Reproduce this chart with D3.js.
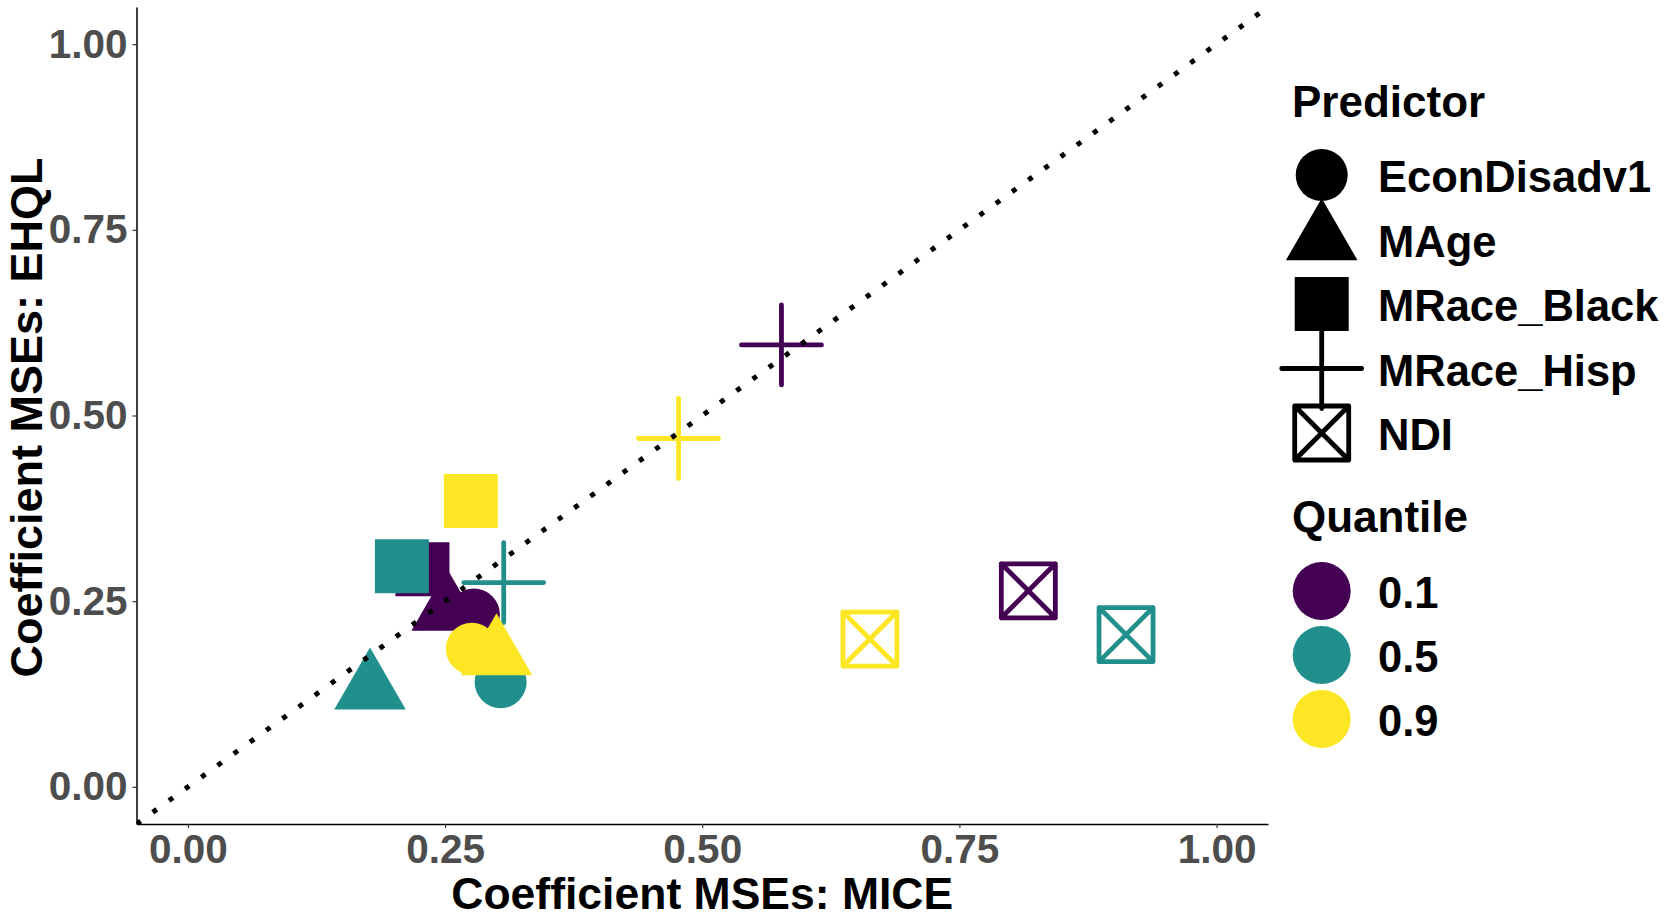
<!DOCTYPE html>
<html>
<head>
<meta charset="utf-8">
<script src="https://cdn.jsdelivr.net/npm/d3@7"></script>
<style>
  body { margin: 0; background: #fff; }
  text { font-family: "Liberation Sans", Arial, sans-serif; font-weight: bold; }
</style>
</head>
<body>
<div id="chart"></div>
<script>
// values
const predictors = ["EconDisadv1", "MAge", "MRace_Black", "MRace_Hisp", "NDI"];
const quantiles = ["0.1", "0.5", "0.9"];

// MSE per predictor (same order as predictors), one pair of arrays per quantile
const miceQ10 = [0.278, 0.252, 0.228, 0.577, 0.817];
const ehqlQ10 = [0.232, 0.238, 0.293, 0.595, 0.264];
const miceQ50 = [0.304, 0.177, 0.208, 0.307, 0.912];
const ehqlQ50 = [0.141, 0.132, 0.297, 0.275, 0.205];
const miceQ90 = [0.276, 0.300, 0.275, 0.477, 0.663];
const ehqlQ90 = [0.186, 0.178, 0.385, 0.469, 0.199];

const tickValues = [0, 0.25, 0.5, 0.75, 1];

const width = 1680,
    height = 922,
    panel = ({ left: 136.5, right: 1268, top: 7, bottom: 824 });

const mice = [miceQ10, miceQ50, miceQ90];
const ehql = [ehqlQ10, ehqlQ50, ehqlQ90];

let data = [];
quantiles.forEach((q, qi) => {
  predictors.forEach((p, pi) => {
    data.push({ quantile: q, predictor: p, mice: mice[qi][pi], ehql: ehql[qi][pi] });
  });
});

const svg = d3.select("#chart")
    .append("svg")
    .attr("width", width)
    .attr("height", height)
    .attr("viewBox", [0, 0, width, height]);

let x = d3.scaleLinear()
    .domain([-0.05, 1.05])
    .range([panel.left, panel.right]);

let y = d3.scaleLinear()
    .domain([-0.05, 1.05])
    .range([panel.bottom, panel.top]);

const color = d3.scaleOrdinal()
    .domain(quantiles)
    .range(["#440154", "#21908C", "#FDE725"]);

// shape paths centred on 0,0 (mimic R pch 16, 17, 15, 3, 7)
const triR = 41.3;
const triX = triR * Math.sqrt(3) / 2;
const shapes = {
  "EconDisadv1": { d: "M-26,0A26,26 0 1,0 26,0A26,26 0 1,0 -26,0Z", filled: true },
  "MAge": { d: `M0,${-triR}L${triX},${triR / 2}L${-triX},${triR / 2}Z`, filled: true },
  "MRace_Black": { d: "M-27,-27H27V27H-27Z", filled: true },
  "MRace_Hisp": { d: "M-40,0H40M0,-40V40", filled: false },
  "NDI": { d: "M-27,-27H27V27H-27ZM-27,-27L27,27M27,-27L-27,27", filled: false }
};

function drawShape(sel, pred, col) {
  const s = shapes[pred];
  sel.attr("d", s.d)
    .attr("fill", s.filled ? col : "none")
    .attr("stroke", s.filled ? "none" : col)
    .attr("stroke-width", 4.8)
    .attr("stroke-linecap", "round")
    .attr("stroke-linejoin", "round");
}

// axes
const xAxis = svg.append("g")
    .attr("transform", `translate(0,${panel.bottom})`)
    .call(d3.axisBottom(x).tickValues(tickValues).tickFormat(d3.format(".2f"))
      .tickSize(4).tickSizeOuter(0).tickPadding(6));

const yAxis = svg.append("g")
    .attr("transform", `translate(${panel.left},0)`)
    .call(d3.axisLeft(y).tickValues(tickValues).tickFormat(d3.format(".2f"))
      .tickSize(4).tickSizeOuter(0).tickPadding(5));

for (let g of [xAxis, yAxis]) {
  g.select(".domain").attr("stroke", "#000").attr("stroke-width", 1.5);
  g.selectAll(".tick line").attr("stroke", "#333333").attr("stroke-width", 1.2);
  g.selectAll(".tick text")
    .attr("fill", "#4D4D4D")
    .style("font-size", "40.5px")
    .style("font-family", "'Liberation Sans', Arial, sans-serif")
    .style("font-weight", "bold");
}

// points
svg.append("g")
  .selectAll("path")
  .data(data)
  .join("path")
  .attr("transform", d => `translate(${x(d.mice)},${y(d.ehql)})`)
  .each(function(d) { drawShape(d3.select(this), d.predictor, color(d.quantile)); });

// y = x reference line, clipped to the panel
svg.append("clipPath")
    .attr("id", "panel-clip")
  .append("rect")
    .attr("x", panel.left)
    .attr("y", panel.top)
    .attr("width", panel.right - panel.left)
    .attr("height", panel.bottom - panel.top);

svg.append("line")
    .attr("clip-path", "url(#panel-clip)")
    .attr("x1", x(-0.05))
    .attr("y1", y(-0.05))
    .attr("x2", x(1.05))
    .attr("y2", y(1.05))
    .attr("stroke", "#000")
    .attr("stroke-width", 5)
    .attr("stroke-dasharray", "5 15");

// axis titles
svg.append("text")
    .attr("x", (panel.left + panel.right) / 2)
    .attr("y", 909)
    .attr("text-anchor", "middle")
    .style("font-size", "44.5px")
    .text("Coefficient MSEs: MICE");

svg.append("text")
    .attr("transform", `translate(42,${(panel.top + panel.bottom) / 2 + 2}) rotate(-90)`)
    .attr("text-anchor", "middle")
    .style("font-size", "45px")
    .text("Coefficient MSEs: EHQL");

// legends
const keyX = 1321.7, labelX = 1378;

svg.append("text").attr("x", 1292).attr("y", 117).style("font-size", "44px").text("Predictor");

const predLegend = svg.append("g")
  .selectAll("g")
  .data(predictors)
  .join("g")
  .attr("transform", (d, i) => `translate(${keyX},${175 + i * 64.5})`);

predLegend.append("path").each(function(d) { drawShape(d3.select(this), d, "#000"); });
predLegend.append("text")
    .attr("x", labelX - keyX)
    .attr("y", 17)
    .style("font-size", "43.5px")
    .text(d => d);

svg.append("text").attr("x", 1292).attr("y", 532).style("font-size", "44px").text("Quantile");

const qLegend = svg.append("g")
  .selectAll("g")
  .data(quantiles)
  .join("g")
  .attr("transform", (d, i) => `translate(${keyX},${591 + i * 64})`);

qLegend.append("circle").attr("r", 29).attr("fill", d => color(d));
qLegend.append("text")
    .attr("x", labelX - keyX)
    .attr("y", 17)
    .style("font-size", "43.5px")
    .text(d => d);
</script>
</body>
</html>
